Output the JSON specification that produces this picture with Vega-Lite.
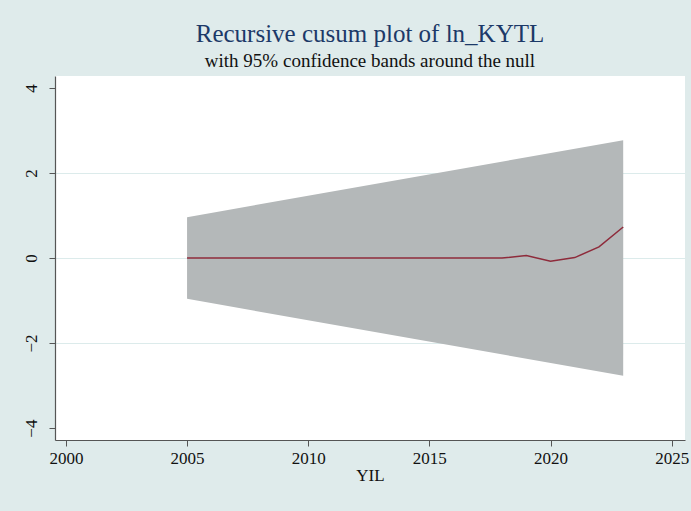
{
  "$schema": "https://vega.github.io/schema/vega-lite/v6.json",
  "autosize": {"type": "none"},
  "width": 630,
  "height": 364,
  "padding": {"left": 55, "top": 76, "right": 6, "bottom": 71},
  "background": "#dfebeb",
  "view": {"fill": "white", "stroke": null},
  "title": {
    "text": "Recursive cusum plot of ln_KYTL",
    "subtitle": "with 95% confidence bands around the null",
    "anchor": "middle",
    "font": "Liberation Serif",
    "fontSize": 25,
    "fontWeight": "normal",
    "color": "#1c3968",
    "subtitleFont": "Liberation Serif",
    "subtitleFontSize": 19,
    "subtitleColor": "#111111",
    "subtitlePadding": 5,
    "offset": 5
  },
  "datasets": {
    "band": [
      {"YIL": 2005, "lo": -0.96, "hi": 0.96},
      {"YIL": 2023, "lo": -2.77, "hi": 2.77}
    ],
    "cusum": [
      {"YIL": 2005, "cusum": 0.0},
      {"YIL": 2006, "cusum": 0.0},
      {"YIL": 2007, "cusum": 0.0},
      {"YIL": 2008, "cusum": 0.0},
      {"YIL": 2009, "cusum": 0.0},
      {"YIL": 2010, "cusum": 0.0},
      {"YIL": 2011, "cusum": 0.0},
      {"YIL": 2012, "cusum": 0.0},
      {"YIL": 2013, "cusum": 0.0},
      {"YIL": 2014, "cusum": 0.0},
      {"YIL": 2015, "cusum": 0.0},
      {"YIL": 2016, "cusum": 0.0},
      {"YIL": 2017, "cusum": 0.0},
      {"YIL": 2018, "cusum": 0.0},
      {"YIL": 2019, "cusum": 0.056},
      {"YIL": 2020, "cusum": -0.078},
      {"YIL": 2021, "cusum": 0.01},
      {"YIL": 2022, "cusum": 0.26},
      {"YIL": 2023, "cusum": 0.73}
    ]
  },
  "config": {
    "font": "Liberation Serif",
    "axis": {
      "labelFont": "Liberation Serif",
      "titleFont": "Liberation Serif",
      "labelFontSize": 17,
      "titleFontSize": 17,
      "labelColor": "#111111",
      "titleColor": "#111111",
      "titleFontWeight": "normal",
      "domainColor": "#555555",
      "tickColor": "#555555",
      "tickSize": 6,
      "domainWidth": 1.2,
      "tickWidth": 1
    }
  },
  "layer": [
    {
      "data": {"name": "band"},
      "mark": {"type": "area", "color": "#b4b8b9", "opacity": 1},
      "encoding": {
        "x": {
          "field": "YIL",
          "type": "quantitative",
          "scale": {"domain": [1999.55, 2025.55], "nice": false, "zero": false},
          "axis": {
            "values": [2000, 2005, 2010, 2015, 2020, 2025],
            "format": "d",
            "grid": false,
            "title": "YIL",
            "labelPadding": 4,
            "titlePadding": 1
          }
        },
        "y": {
          "field": "hi",
          "type": "quantitative",
          "scale": {"domain": [-4.28, 4.28], "nice": false, "zero": false},
          "axis": {
            "values": [-4, -2, 0, 2, 4],
            "title": null,
            "labelAngle": -90,
            "labelAlign": "center",
            "labelBaseline": "bottom",
            "labelPadding": 9,
            "grid": true,
            "gridColor": "#dcebeb",
            "gridWidth": 1.2,
            "gridOpacity": {"condition": {"test": "abs(datum.value) > 3", "value": 0}, "value": 1}
          }
        },
        "y2": {"field": "lo"}
      }
    },
    {
      "data": {"name": "cusum"},
      "mark": {"type": "line", "color": "#8e2b3b", "strokeWidth": 1.5},
      "encoding": {
        "x": {"field": "YIL", "type": "quantitative"},
        "y": {"field": "cusum", "type": "quantitative"}
      }
    }
  ]
}
